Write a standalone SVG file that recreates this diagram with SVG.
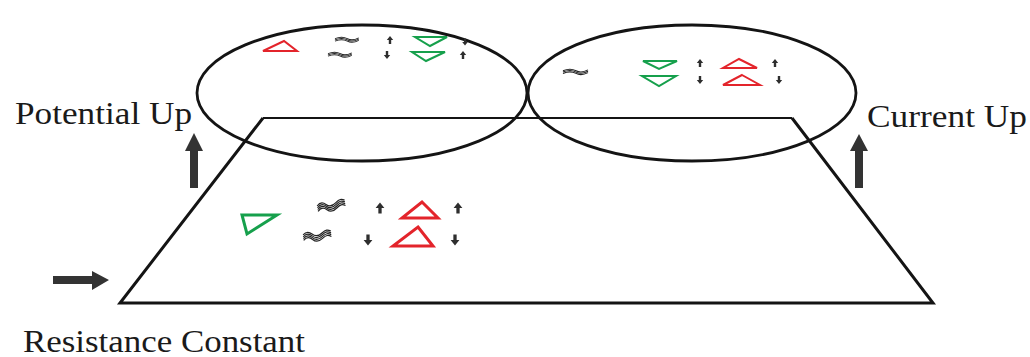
<svg xmlns="http://www.w3.org/2000/svg" xmlns:xlink="http://www.w3.org/1999/xlink" width="1030" height="357" viewBox="0 0 1030 357">
<style>
.line{fill:none;stroke:#141414;stroke-linejoin:miter}
.red{fill:none;stroke:#e3242b;stroke-linejoin:miter}
.green{fill:none;stroke:#16a04c;stroke-linejoin:miter}
.lbl{font-family:"Liberation Serif","Times New Roman",serif;font-size:31px;fill:#1a1a1a}
.big{fill:#333}
.wv{fill:none;stroke:#222;stroke-width:1.2}
</style>
<defs>
<path id="au" d="M0,-5 L4,0 L1.5,0 L1.5,5 L-1.5,5 L-1.5,0 L-4,0 Z" fill="#2e2e2e"/>
<g id="w2"><path class="wv" d="M0,2 c5,-2.5 9,-2.5 13,0 s8,1.5 12,-1"/><path class="wv" d="M0,3.6 c5,-2.5 9,-2.5 13,0 s8,1.5 12,-1"/><path class="wv" d="M0,5.2 c5,-2.5 9,-2.5 13,0 s8,1.5 12,-1"/></g>
<g id="w4"><path class="wv" d="M0,1 c3,-3 6,-3 9,0 s6,3 10,0 s6,-3 9,-1"/><path class="wv" d="M0,2.8 c3,-3 6,-3 9,0 s6,3 10,0 s6,-3 9,-1"/><path class="wv" d="M0,4.6 c3,-3 6,-3 9,0 s6,3 10,0 s6,-3 9,-1"/><path class="wv" d="M0,6.4 c3,-3 6,-3 9,0 s6,3 10,0 s6,-3 9,-1"/></g>
</defs>

<g id="plane">
<path class="line" d="M263,118 L792,118" stroke-width="2"/>
<path class="line" d="M263,118 L120,303 L933,303 L792,118" stroke-width="3"/>
</g>

<g id="ellipse-left">
<ellipse class="line" cx="362" cy="93" rx="165" ry="68" stroke-width="2.8"/>
<path class="red" stroke-width="2" d="M263,51 L297,51 L284,41 Z"/>
<use xlink:href="#w2" transform="translate(335,37) scale(0.95,0.8)"/>
<use xlink:href="#w2" transform="translate(328,52) scale(0.95,0.8)"/>
<use xlink:href="#au" transform="translate(390,40) scale(0.8)"/>
<use xlink:href="#au" transform="translate(387,55) rotate(180) scale(0.8)"/>
<path class="green" stroke-width="2" d="M415,37 L447,37 L430,46 Z"/>
<path class="green" stroke-width="2" d="M412,52 L445,52 L426,61 Z"/>
<use xlink:href="#au" transform="translate(465,42) rotate(180) scale(0.7)"/>
<use xlink:href="#au" transform="translate(463,55) scale(0.8)"/>
</g>

<g id="ellipse-right">
<ellipse class="line" cx="692" cy="93" rx="164" ry="68" stroke-width="2.8"/>
<use xlink:href="#w2" transform="translate(563,69) scale(1,0.85)"/>
<path class="green" stroke-width="2" d="M643,61 L677,61 L659,69 Z"/>
<path class="green" stroke-width="2" d="M642,76 L676,76 L659,86 Z"/>
<use xlink:href="#au" transform="translate(700,63) scale(0.8)"/>
<use xlink:href="#au" transform="translate(700,80) rotate(180) scale(0.8)"/>
<path class="red" stroke-width="2" d="M739,59 L757,68 L723,68 Z"/>
<path class="red" stroke-width="2" d="M742,75 L760,85 L723,85 Z"/>
<use xlink:href="#au" transform="translate(775,63) scale(0.8)"/>
<use xlink:href="#au" transform="translate(779,80) rotate(180) scale(0.8)"/>
</g>

<g id="plane-content">
<path class="green" stroke-width="3" d="M242,215 L277,215 L247,234 Z"/>
<use xlink:href="#w4" transform="translate(317,205) rotate(-10)"/>
<use xlink:href="#w4" transform="translate(303,234) rotate(-6)"/>
<use xlink:href="#au" transform="translate(380,208) scale(1.1)"/>
<use xlink:href="#au" transform="translate(368,240) rotate(180) scale(1.1)"/>
<path class="red" stroke-width="3" d="M422,202 L438,218 L402,218 Z"/>
<path class="red" stroke-width="3" d="M418,227 L433,246 L393,246 Z"/>
<use xlink:href="#au" transform="translate(458,208) scale(1.1)"/>
<use xlink:href="#au" transform="translate(455,240) rotate(180) scale(1.1)"/>
</g>

<g id="connectors">
<path class="big" d="M194,133 L203,151 L198,151 L198,188 L190,188 L190,151 L185,151 Z"/>
<path class="big" d="M859,134 L868,151 L863,151 L863,188 L855,188 L855,151 L850,151 Z"/>
<path class="big" d="M109,280 L92,271 L92,276 L53,276 L53,284 L92,284 L92,290 Z"/>
</g>

<g id="labels">
<text class="lbl" x="15" y="124" textLength="177" lengthAdjust="spacingAndGlyphs">Potential Up</text>
<text class="lbl" x="867" y="127" textLength="160" lengthAdjust="spacingAndGlyphs">Current Up</text>
<text class="lbl" x="23" y="352" textLength="282" lengthAdjust="spacingAndGlyphs">Resistance Constant</text>
</g>
</svg>
